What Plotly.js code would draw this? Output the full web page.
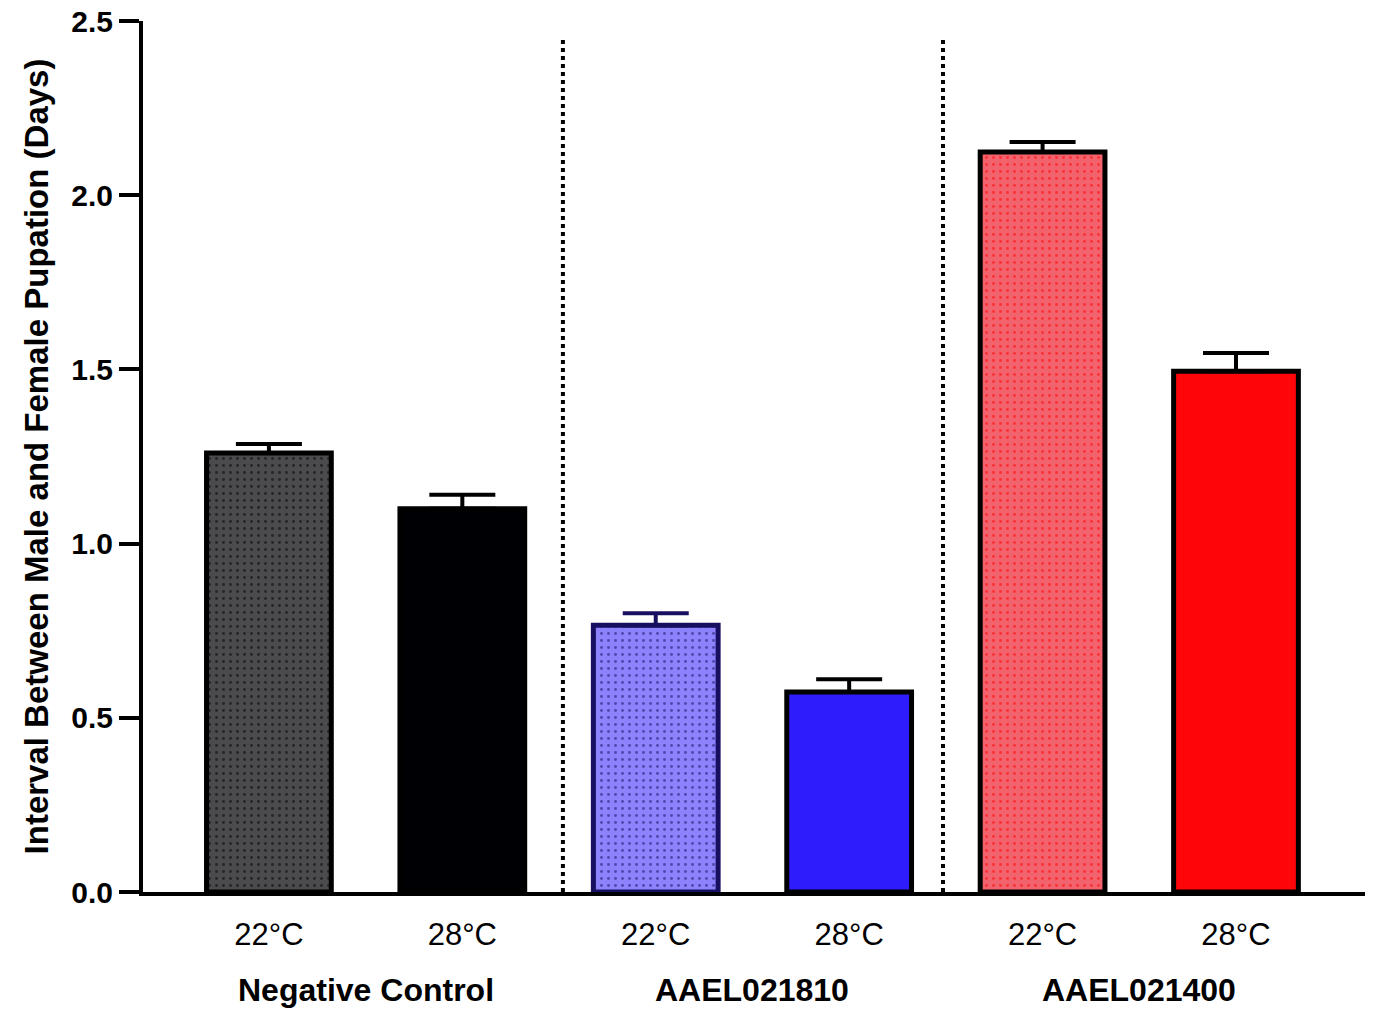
<!DOCTYPE html>
<html>
<head>
<meta charset="utf-8">
<script src="https://cdn.plot.ly/plotly-3.0.1.min.js"></script>
<style>
  html, body { margin: 0; padding: 0; background: #ffffff; }
  #chart { width: 1374px; height: 1010px; }
</style>
</head>
<body>
<div id="chart"></div>
<script>
// Pupation interval by temperature for each knockdown group
const groups = ["Negative Control", "AAEL021810", "AAEL021400"];
const tickLabels = ["22°C", "28°C", "22°C", "28°C", "22°C", "28°C"];
const means = [1.26, 1.10, 0.766, 0.574, 2.124, 1.495];
const sem = [0.026, 0.040, 0.034, 0.037, 0.029, 0.052];

// Per-bar styling
const fillColors = ["#4b4b4d", "#000004", "#8c82fc", "#2f1cfd", "#f2636d", "#fe0509"];
const dotColors = ["#000000", "#000004", "#140b5e", "#2f1cfd", "#ff0000", "#fe0509"];
const dotShapes = [".", "", ".", "", ".", ""];
const outlineColors = ["#000000", "#000000", "#171061", "#000000", "#000000", "#000000"];
const errorColors = ["#000000", "#000000", "#171061", "#000000", "#000000", "#000000"];

// Separators between groups (x in bar-index units)
const separators = [1.52, 3.485];

const font = "'Liberation Sans', Arial, Helvetica, sans-serif";

const traces = means.map((m, i) => ({
  type: "bar",
  x: [i],
  y: [m],
  width: 0.645,
  marker: {
    color: fillColors[i],
    line: { color: outlineColors[i], width: 5 },
    pattern: {
      shape: dotShapes[i],
      fgcolor: dotColors[i],
      bgcolor: fillColors[i],
      size: 7,
      solidity: 0.14,
      fillmode: "overlay"
    }
  },
  error_y: {
    type: "data",
    symmetric: false,
    array: [sem[i]],
    arrayminus: [0],
    color: errorColors[i],
    thickness: 4,
    width: 33
  },
  hoverinfo: "skip",
  showlegend: false
}));

const shapes = separators.map(s => ({
  type: "line",
  xref: "x", yref: "y",
  x0: s, x1: s, y0: 0, y1: 2.45,
  line: { color: "#000000", width: 4, dash: "dot" },
  layer: "below"
}));

const annotations = groups.map((g, k) => ({
  text: "<b>" + g + "</b>",
  xref: "x", yref: "paper",
  x: 2 * k + 0.5,
  y: -0.113,
  yanchor: "middle",
  showarrow: false,
  font: { family: font, size: 32, color: "#000000" }
}));

const layout = {
  width: 1374,
  height: 1010,
  margin: { l: 143, r: 9, t: 21, b: 118 },
  paper_bgcolor: "#ffffff",
  plot_bgcolor: "#ffffff",
  barmode: "overlay",
  showlegend: false,
  xaxis: {
    range: [-0.651, 5.667],
    tickmode: "array",
    tickvals: tickLabels.map((_, i) => i),
    ticktext: tickLabels,
    ticks: "",
    showgrid: false,
    zeroline: false,
    showline: true,
    linecolor: "#000000",
    linewidth: 4,
    ticklabelstandoff: 12,
    tickfont: { family: font, size: 31, color: "#000000" }
  },
  yaxis: {
    range: [0, 2.5],
    tickmode: "array",
    tickvals: [0, 0.5, 1.0, 1.5, 2.0, 2.5],
    ticktext: ["<b>0.0</b>", "<b>0.5</b>", "<b>1.0</b>", "<b>1.5</b>", "<b>2.0</b>", "<b>2.5</b>"],
    ticks: "outside",
    ticklen: 20,
    tickwidth: 4,
    tickcolor: "#000000",
    showgrid: false,
    zeroline: false,
    showline: true,
    linecolor: "#000000",
    linewidth: 4,
    tickfont: { family: font, size: 30, color: "#000000" },
    title: {
      text: "<b>Interval Between Male and Female Pupation (Days)</b>",
      font: { family: font, size: 33, color: "#000000" },
      standoff: 14
    }
  },
  shapes: shapes,
  annotations: annotations
};

Plotly.newPlot("chart", traces, layout, { displayModeBar: false, staticPlot: true });
</script>
</body>
</html>
